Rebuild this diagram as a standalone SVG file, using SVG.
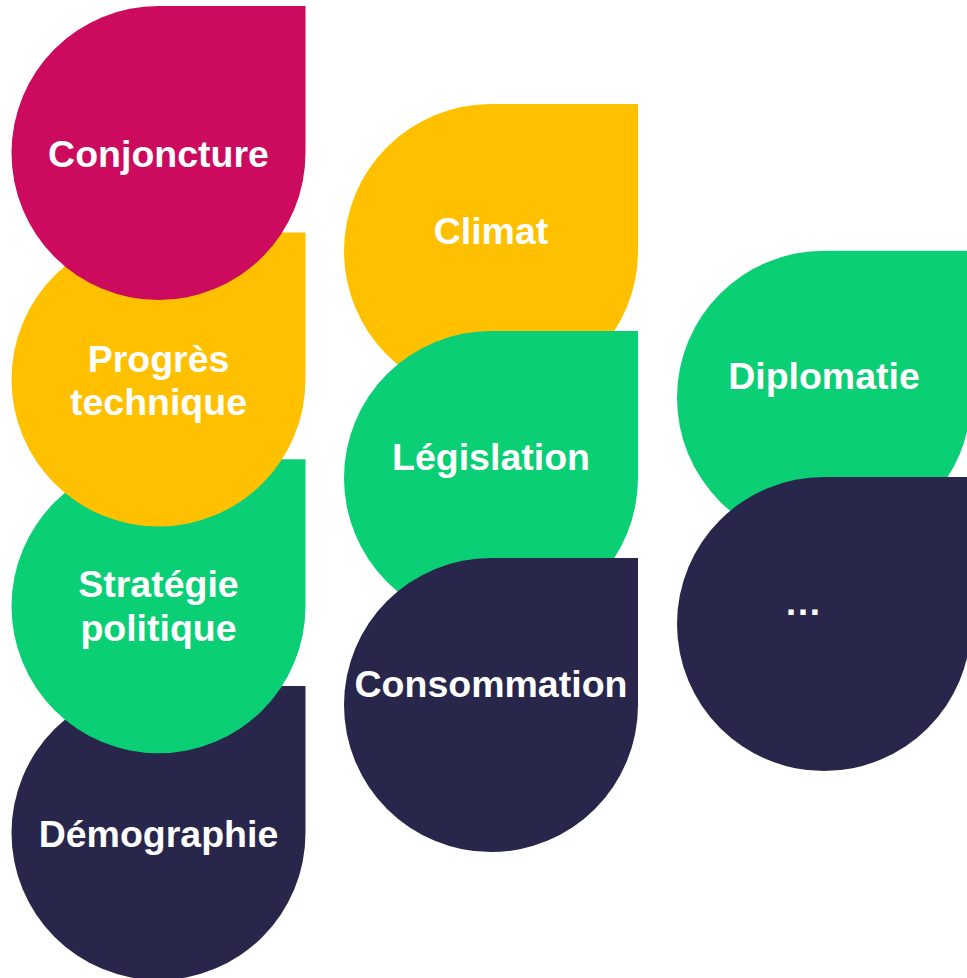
<svg xmlns="http://www.w3.org/2000/svg" xmlns:xlink="http://www.w3.org/1999/xlink" width="967" height="978" viewBox="0 0 967 978">
<style>
.mag{fill:#CC0A5E}
.yel{fill:#FFC000}
.grn{fill:#0ACF74}
.nav{fill:#29264B}
text{fill:#FFFFFF;font-family:"Liberation Sans",Arial,sans-serif;font-weight:bold;font-size:37.5px;text-anchor:middle}
</style>
<defs>
<path id="drop" d="M147,0 H294 V147 A147,147 0 0 1 147,294 A147,147 0 0 1 0,147 A147,147 0 0 1 147,0 Z"/>
</defs>
<rect width="967" height="978" fill="#FFFFFF"/>
<g id="connectors"/>
<g id="demographie">
<use xlink:href="#drop" href="#drop" x="11.5" y="686" class="nav"/>
<text x="158.5" y="847">Démographie</text>
</g>
<g id="strategie-politique">
<use xlink:href="#drop" href="#drop" x="11.5" y="459.3" class="grn"/>
<text x="158.5" y="597">Stratégie</text>
<text x="158.5" y="641">politique</text>
</g>
<g id="progres-technique">
<use xlink:href="#drop" href="#drop" x="11.5" y="232.5" class="yel"/>
<text x="158.5" y="372">Progrès</text>
<text x="158.5" y="415">technique</text>
</g>
<g id="conjoncture">
<use xlink:href="#drop" href="#drop" x="11.5" y="6" class="mag"/>
<text x="158.5" y="167">Conjoncture</text>
</g>
<g id="climat">
<use xlink:href="#drop" href="#drop" x="344" y="104" class="yel"/>
<text x="491" y="244">Climat</text>
</g>
<g id="legislation">
<use xlink:href="#drop" href="#drop" x="344" y="331" class="grn"/>
<text x="491" y="470">Législation</text>
</g>
<g id="consommation">
<use xlink:href="#drop" href="#drop" x="344" y="558" class="nav"/>
<text x="491" y="697">Consommation</text>
</g>
<g id="diplomatie">
<use xlink:href="#drop" href="#drop" x="677" y="250.7" class="grn"/>
<text x="824" y="389">Diplomatie</text>
</g>
<g id="etc">
<use xlink:href="#drop" href="#drop" x="677" y="477" class="nav"/>
<text x="803" y="615">…</text>
</g>
</svg>
